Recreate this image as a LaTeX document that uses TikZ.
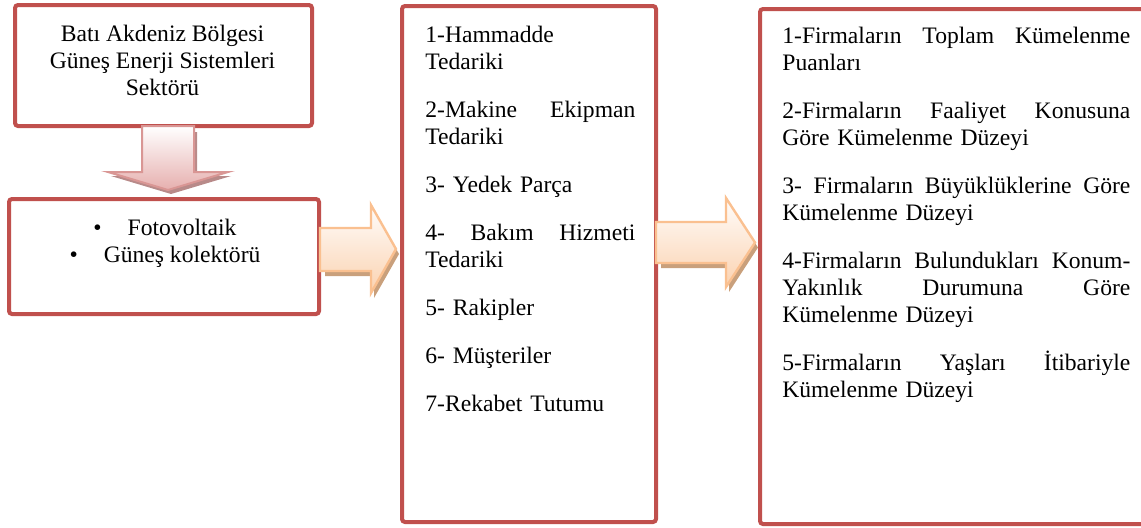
\documentclass[tikz,border=0pt]{standalone}
\usepackage{fontspec}
\setmainfont{Liberation Serif}
\definecolor{boxred}{HTML}{C0504D}
\definecolor{pinkedge}{HTML}{D99694}
\definecolor{pinkfill}{HTML}{E6AFAE}
\definecolor{pinkshadow}{HTML}{B88A89}
\definecolor{peachedge}{HTML}{FAC090}
\definecolor{peachfill}{HTML}{FBD2B0}
\definecolor{peachshadow}{HTML}{C9A07C}
\newcommand{\justC}[1]{\leavevmode\hbox to 105pt{#1}}
\newcommand{\justD}[1]{\leavevmode\hbox to 174pt{#1}}
\tikzset{
  box/.style={draw=boxred, line width=2pt, rounded corners=1.5pt, fill=white, inner sep=0pt},
  txt/.style={inner sep=0pt, font=\fontsize{11.8}{13.5}\selectfont},
  downarrow/.style={draw=pinkedge, line width=1pt, top color=white, bottom color=pinkfill},
  rightarrow/.style={draw=peachedge, line width=1.2pt, top color=white!95!peachfill, bottom color=peachfill},
}
\begin{document}
\begin{tikzpicture}[x=0.5pt, y=-0.5pt]
\useasboundingbox (0,0) rectangle (1141,527);
\clip (0,0) rectangle (1141,527);
% boxes
\node[box, minimum width=148.5pt, minimum height=60.5pt] (A) at (163.5,65.5) {};
\node[box, minimum width=155pt, minimum height=57.5pt] (B) at (164,256.5) {};
\node[box, minimum width=127pt, minimum height=258pt] (C) at (529,264) {};
\node[box, minimum width=192.5pt, minimum height=257.5pt] (D) at (952.5,266.5) {};
% down arrow
\fill[pinkshadow, shift={(3,4)}] (142,128) -- (194,128) -- (194,172) -- (228,172) -- (168,190) -- (108,172) -- (142,172) -- cycle;
\path[downarrow] (142,126) -- (194,126) -- (194,172) -- (228,172) -- (168,190) -- (108,172) -- (142,172) -- cycle;
% right arrow 1
\fill[peachshadow, shift={(3,5)}] (322,228) -- (371,228) -- (371,205) -- (396,249) -- (371,293) -- (371,271) -- (322,271) -- cycle;
\path[rightarrow] (320,228) -- (371,228) -- (371,205) -- (396,249) -- (371,293) -- (371,271) -- (320,271) -- cycle;
% right arrow 2
\fill[peachshadow, shift={(3,5)}] (658,222) -- (726,222) -- (726,198) -- (755,242.5) -- (726,287) -- (726,263) -- (658,263) -- cycle;
\path[rightarrow] (656,222) -- (726,222) -- (726,198) -- (755,242.5) -- (726,287) -- (726,263) -- (656,263) -- cycle;
% texts
\node[txt, anchor=north, align=center] (tA) at (162.5,22.1)
  {\strut Batı Akdeniz Bölgesi\\Güneş Enerji Sistemleri\\Sektörü};
\node[txt, anchor=north, align=center] (tB) at (165,216.1)
  {\strut\textbullet\hspace{13pt}Fotovoltaik\\\textbullet\hspace{13pt}Güneş kolektörü};
\node[txt, anchor=north west, align=left, text width=105pt] (tC) at (425,23.1)
  {\strut 1-Hammadde\\Tedariki\\[10.5pt]
   \justC{2-Makine\hfill Ekipman}\\Tedariki\\[10.5pt]
   3- Yedek Parça\\[10.5pt]
   \justC{4-\hfill Bakım\hfill Hizmeti}\\Tedariki\\[10.5pt]
   5- Rakipler\\[10.5pt]
   6- Müşteriler\\[10.5pt]
   7-Rekabet Tutumu};
\node[txt, anchor=north west, align=left, text width=174pt] (tD) at (782,24.1)
  {\strut\justD{1-Firmaların\hfill Toplam\hfill Kümelenme}\\Puanları\\[10.5pt]
   \justD{2-Firmaların\hfill Faaliyet\hfill Konusuna}\\Göre Kümelenme Düzeyi\\[10.5pt]
   \justD{3-\hfill Firmaların\hfill Büyüklüklerine\hfill Göre}\\Kümelenme Düzeyi\\[10.5pt]
   \justD{4-Firmaların\hfill Bulundukları\hfill Konum-}\\\justD{Yakınlık\hfill Durumuna\hfill Göre}\\Kümelenme Düzeyi\\[10.5pt]
   \justD{5-Firmaların\hfill Yaşları\hfill İtibariyle}\\Kümelenme Düzeyi};
\end{tikzpicture}
\end{document}
